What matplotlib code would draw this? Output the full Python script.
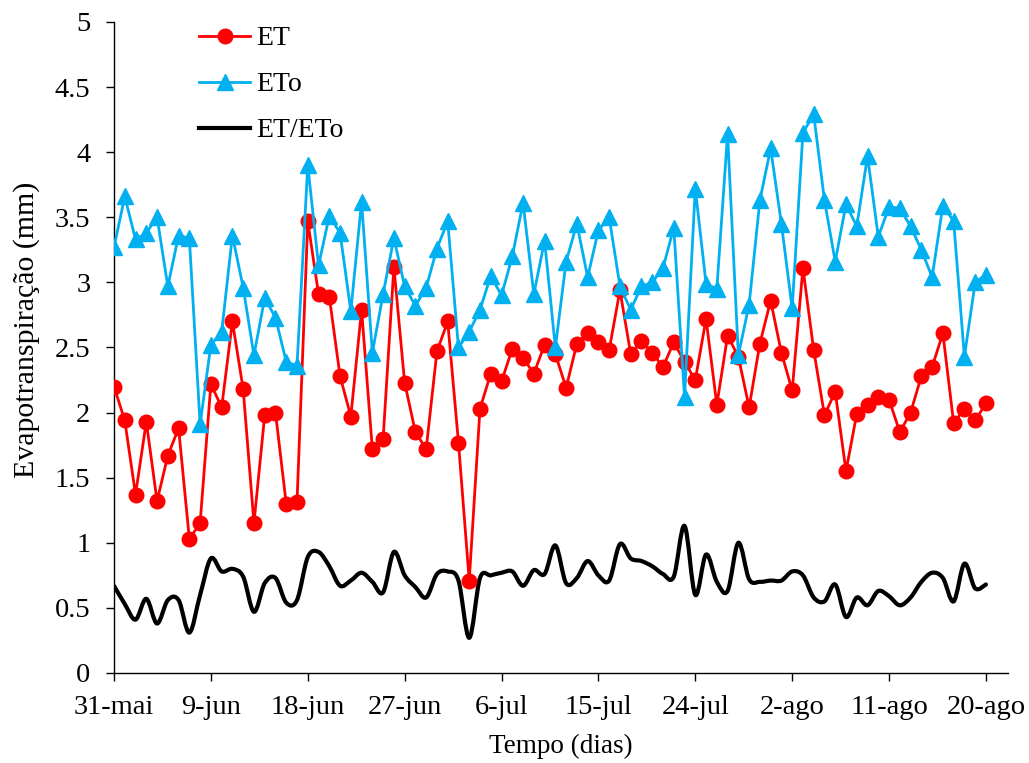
import matplotlib
matplotlib.use("Agg")
import matplotlib.pyplot as plt
import numpy as np
from matplotlib.path import Path
from matplotlib.patches import PathPatch
from matplotlib.lines import Line2D

plt.rcParams['font.family'] = ['Liberation Serif', 'DejaVu Serif']

# Day index (0 = 31-mai ... 81 = 20-ago)
days = list(range(82))

et = [2.20, 1.94, 1.37, 1.93, 1.32, 1.67, 1.88, 1.03, 1.15, 2.22,
      2.04, 2.70, 2.18, 1.15, 1.98, 2.00, 1.30, 1.31, 3.47, 2.91,
      2.89, 2.28, 1.97, 2.79, 1.72, 1.80, 3.12, 2.23, 1.85, 1.72,
      2.47, 2.70, 1.77, 0.71, 2.03, 2.30, 2.24, 2.49, 2.42, 2.30,
      2.52, 2.45, 2.19, 2.53, 2.61, 2.54, 2.48, 2.94, 2.45, 2.55,
      2.46, 2.35, 2.54, 2.39, 2.25, 2.72, 2.06, 2.59, 2.43, 2.04,
      2.53, 2.86, 2.46, 2.17, 3.11, 2.48, 1.98, 2.16, 1.55, 1.99,
      2.06, 2.12, 2.10, 1.85, 2.00, 2.28, 2.35, 2.61, 1.92, 2.03,
      1.94, 2.07]

eto = [3.27, 3.66, 3.33, 3.38, 3.50, 2.97, 3.36, 3.34, 1.91, 2.52,
       2.62, 3.36, 2.96, 2.44, 2.88, 2.73, 2.39, 2.36, 3.90, 3.13,
       3.51, 3.38, 2.78, 3.62, 2.46, 2.91, 3.34, 2.97, 2.82, 2.96,
       3.26, 3.47, 2.50, 2.62, 2.79, 3.05, 2.90, 3.20, 3.61, 2.91,
       3.32, 2.50, 3.16, 3.45, 3.04, 3.40, 3.50, 2.97, 2.79, 2.97,
       3.00, 3.11, 3.42, 2.12, 3.72, 2.99, 2.95, 4.14, 2.44, 2.83,
       3.63, 4.03, 3.45, 2.80, 4.15, 4.29, 3.63, 3.16, 3.60, 3.43,
       3.97, 3.35, 3.58, 3.57, 3.43, 3.25, 3.04, 3.59, 3.47, 2.43,
       3.00, 3.06]

ratio = [0.67, 0.53, 0.41, 0.57, 0.38, 0.56, 0.56, 0.31, 0.60, 0.88,
         0.78, 0.80, 0.74, 0.47, 0.69, 0.73, 0.54, 0.56, 0.89, 0.93,
         0.82, 0.67, 0.71, 0.77, 0.70, 0.62, 0.93, 0.75, 0.66, 0.58,
         0.76, 0.78, 0.71, 0.27, 0.73, 0.75, 0.77, 0.78, 0.67, 0.79,
         0.76, 0.98, 0.69, 0.73, 0.86, 0.75, 0.71, 0.99, 0.88, 0.86,
         0.82, 0.76, 0.74, 1.13, 0.60, 0.91, 0.70, 0.63, 1.00, 0.72,
         0.70, 0.71, 0.71, 0.78, 0.75, 0.58, 0.55, 0.68, 0.43, 0.58,
         0.52, 0.63, 0.59, 0.52, 0.58, 0.70, 0.77, 0.73, 0.55, 0.84,
         0.65, 0.68]

tick_days = [0, 9, 18, 27, 36, 45, 54, 63, 72, 81]
tick_labels = ['31-mai', '9-jun', '18-jun', '27-jun', '6-jul', '15-jul',
               '24-jul', '2-ago', '11-ago', '20-ago']

RED = '#FF0000'
BLUE = '#00B0F0'

fig = plt.figure(figsize=(10.29, 7.63), dpi=100)
ax = fig.add_axes([114/1029, (763-673)/763, (1008-114)/1029, (673-22)/763])


def smooth_path(xs, ys):
    # Excel-like smoothed line: cubic Bezier through points (Catmull-Rom)
    xs = np.asarray(xs, float)
    ys = np.asarray(ys, float)
    n = len(xs)
    verts = [(xs[0], ys[0])]
    codes = [Path.MOVETO]
    for i in range(n - 1):
        i0 = max(i - 1, 0)
        i3 = min(i + 2, n - 1)
        c1 = (xs[i] + (xs[i + 1] - xs[i0]) / 6.0, ys[i] + (ys[i + 1] - ys[i0]) / 6.0)
        c2 = (xs[i + 1] - (xs[i3] - xs[i]) / 6.0, ys[i + 1] - (ys[i3] - ys[i]) / 6.0)
        verts += [c1, c2, (xs[i + 1], ys[i + 1])]
        codes += [Path.CURVE4, Path.CURVE4, Path.CURVE4]
    return Path(verts, codes)


ax.add_patch(PathPatch(smooth_path(days, ratio), fill=False, edgecolor='black',
                       lw=3.0, capstyle='round', joinstyle='round', zorder=2))
ax.plot(days, et, color=RED, lw=2.0, marker='o', markersize=10.5,
        markeredgecolor=RED, markerfacecolor=RED, zorder=3)
ax.plot(days, eto, color=BLUE, lw=2.0, marker='^', markersize=11,
        markeredgecolor=BLUE, markerfacecolor=BLUE, zorder=4)

ax.set_xlim(0, 83.05)
ax.set_ylim(0, 5)
ax.set_xticks(tick_days)
ax.set_xticklabels(tick_labels)
ax.set_yticks([0, 0.5, 1, 1.5, 2, 2.5, 3, 3.5, 4, 4.5, 5])
ax.set_yticklabels(['0', '0.5', '1', '1.5', '2', '2.5', '3', '3.5', '4', '4.5', '5'])

for s in ['top', 'right']:
    ax.spines[s].set_visible(False)
for s in ['left', 'bottom']:
    ax.spines[s].set_linewidth(1.0)
    ax.spines[s].set_color('black')

ax.tick_params(axis='x', direction='out', length=6, width=1.0, labelsize=20.5, pad=10)
ax.tick_params(axis='y', direction='out', length=6, width=1.0, labelsize=20.5, pad=11)

ax.set_xlabel('Tempo (dias)', fontsize=19.5, labelpad=10)
ax.set_ylabel('Evapotranspiração (mm)', fontsize=21.5)
ax.yaxis.set_label_coords(-0.083, 0.527)

handles = [
    Line2D([], [], color=RED, lw=2.0, marker='o', markersize=10.5),
    Line2D([], [], color=BLUE, lw=2.0, marker='^', markersize=11),
    Line2D([], [], color='black', lw=3.0),
]
ax.legend(handles, ['ET', 'ETo', 'ET/ETo'], loc='upper left',
          bbox_to_anchor=(199/1029, (763-26)/763), bbox_transform=fig.transFigure,
          frameon=False, fontsize=20, handlelength=1.85, handletextpad=0.2,
          labelspacing=0.74, borderaxespad=0, borderpad=0)

fig.savefig('out.png', dpi=100)
